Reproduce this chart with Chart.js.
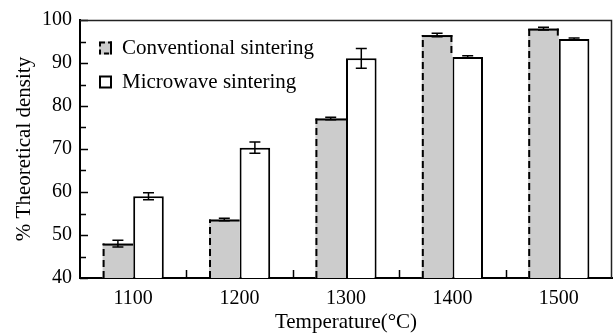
<!DOCTYPE html>
<html><head><meta charset="utf-8">
<script src="https://cdn.jsdelivr.net/npm/chart.js@4/dist/chart.umd.min.js"></script>
<style>html,body{margin:0;padding:0;background:#fff}#wrap{width:614px;height:333px}</style>
</head><body><div id="wrap"><canvas id="c" width="614" height="333"></canvas></div>
<script>
const categories = ['1100', '1200', '1300', '1400', '1500'];
const conventional = [48.0, 53.6, 77.1, 96.5, 98.0];
const conventionalErr = [0.8, 0.3, 0.3, 0.4, 0.3];
const microwave = [59.0, 70.3, 91.1, 91.4, 95.6];
const microwaveErr = [0.8, 1.3, 2.3, 0.3, 0.2];
const yTicks = [40, 50, 60, 70, 80, 90, 100];
const yMinorTicks = [45, 55, 65, 75, 85, 95];
const seriesLabels = ['Conventional sintering', 'Microwave sintering'];

const SERIF = "'Liberation Serif', 'Times New Roman', serif";

const decor = {
  id: 'decor',
  afterDatasetsDraw(chart) {
    const ctx = chart.ctx, xs = chart.scales.x, ys = chart.scales.y, a = chart.chartArea;
    const m0 = chart.getDatasetMeta(0), m1 = chart.getDatasetMeta(1);
    ctx.save();
    ctx.strokeStyle = '#000';
    // conventional dashed borders
    m0.data.forEach((bar, i) => {
      const l = bar.x - bar.width / 2 + 1, r = bar.x + bar.width / 2, t = bar.y, b = Math.min(bar.base, a.bottom);
      ctx.lineWidth = 2;
      ctx.setLineDash([7, 4]);
      ctx.beginPath(); ctx.moveTo(l, b); ctx.lineTo(l, t); ctx.stroke();
      const mt = m1.data[i].y;
      if (mt > t) { ctx.beginPath(); ctx.moveTo(r - 1, t); ctx.lineTo(r - 1, mt); ctx.stroke(); }
      ctx.setLineDash([]);
      ctx.beginPath(); ctx.moveTo(l - 1, t + 1); ctx.lineTo(r, t + 1); ctx.stroke();
    });
    // error bars
    const errs = [conventionalErr, microwaveErr], vals = [conventional, microwave];
    [m0, m1].forEach((meta, d) => {
      meta.data.forEach((bar, i) => {
        const v = vals[d][i], e = errs[d][i];
        const yt = ys.getPixelForValue(v + e), yb = ys.getPixelForValue(v - e);
        const cx = bar.x, hw = 5.5;
        ctx.lineWidth = 1.5;
        ctx.beginPath();
        ctx.moveTo(cx, yt); ctx.lineTo(cx, yb);
        ctx.moveTo(cx - hw, yt); ctx.lineTo(cx + hw, yt);
        ctx.moveTo(cx - hw, yb); ctx.lineTo(cx + hw, yb);
        ctx.stroke();
      });
    });
    // y ticks (inward)
    ctx.lineWidth = 1.5;
    ctx.beginPath();
    yTicks.forEach(v => { const p = Math.round(ys.getPixelForValue(v)) + 0.5; ctx.moveTo(a.left, p); ctx.lineTo(a.left + 8, p); });
    yMinorTicks.forEach(v => { const p = Math.round(ys.getPixelForValue(v)) + 0.5; ctx.moveTo(a.left, p); ctx.lineTo(a.left + 6, p); });
    // x ticks at category boundaries
    for (let i = 1; i < categories.length; i++) {
      const p = Math.round((xs.getPixelForValue(i - 1) + xs.getPixelForValue(i)) / 2) + 0.5;
      ctx.moveTo(p, a.bottom); ctx.lineTo(p, a.bottom - 8);
    }
    ctx.stroke();
    // top and right frame
    ctx.lineWidth = 1.5;
    ctx.strokeStyle = '#222';
    ctx.beginPath();
    ctx.moveTo(a.left, a.top + 0.5); ctx.lineTo(a.right - 0.5, a.top + 0.5); ctx.lineTo(a.right - 0.5, a.bottom);
    ctx.stroke();
    // legend
    ctx.strokeStyle = '#000';
    const bx = a.left + 19, bs = 13;
    const rows = [a.top + 28, a.top + 62];
    ctx.fillStyle = '#cccccc';
    ctx.fillRect(bx, rows[0] - bs / 2, bs, bs);
    ctx.lineWidth = 2;
    ctx.setLineDash([5, 3]);
    ctx.strokeRect(bx + 1, rows[0] - bs / 2 + 1, bs - 2, bs - 2);
    ctx.setLineDash([]);
    ctx.beginPath(); ctx.moveTo(bx + bs - 1, rows[0] - bs / 2); ctx.lineTo(bx + bs - 1, rows[0] + bs / 2); ctx.stroke();
    ctx.fillStyle = '#fff';
    ctx.fillRect(bx, rows[1] - bs / 2, bs, bs);
    ctx.lineWidth = 2;
    ctx.strokeRect(bx + 1, rows[1] - bs / 2 + 1, bs - 2, bs - 2);
    ctx.fillStyle = '#000';
    ctx.font = '21px ' + SERIF;
    ctx.textBaseline = 'middle';
    ctx.textAlign = 'left';
    seriesLabels.forEach((s, i) => ctx.fillText(s, bx + bs + 10, rows[i]));
    ctx.restore();
  }
};

new Chart(document.getElementById('c'), {
  type: 'bar',
  data: {
    labels: categories,
    datasets: [
      { label: seriesLabels[0], data: conventional, backgroundColor: '#cccccc', borderWidth: 0,
        categoryPercentage: 0.575, barPercentage: 1 },
      { label: seriesLabels[1], data: microwave, backgroundColor: '#ffffff', borderColor: '#000', borderWidth: 2,
        categoryPercentage: 0.575, barPercentage: 1 }
    ]
  },
  options: {
    responsive: false,
    animation: false,
    devicePixelRatio: 1,
    layout: { padding: { top: 18, right: 2, left: 0, bottom: 0 } },
    plugins: { legend: { display: false }, tooltip: { enabled: false } },
    scales: {
      x: {
        grid: { display: false, drawTicks: false },
        border: { display: true, color: '#000', width: 2 },
        ticks: { color: '#000', font: { family: SERIF, size: 20 }, padding: 9 },
        title: { display: true, text: 'Temperature(°C)', color: '#000', font: { family: SERIF, size: 21, lineHeight: 1 }, padding: { top: 0, bottom: 0 } },
        afterFit(s) { s.height = 55; }
      },
      y: {
        min: 40, max: 100,
        grid: { display: false, drawTicks: false },
        border: { display: true, color: '#000', width: 2 },
        ticks: { stepSize: 10, color: '#000', font: { family: SERIF, size: 20 }, padding: 8 },
        title: { display: true, text: '% Theoretical density', color: '#000', font: { family: SERIF, size: 21 }, padding: { top: 12, bottom: 0 } },
        afterFit(s) { s.width = 80; }
      }
    }
  },
  plugins: [decor]
});
</script>
</body></html>
